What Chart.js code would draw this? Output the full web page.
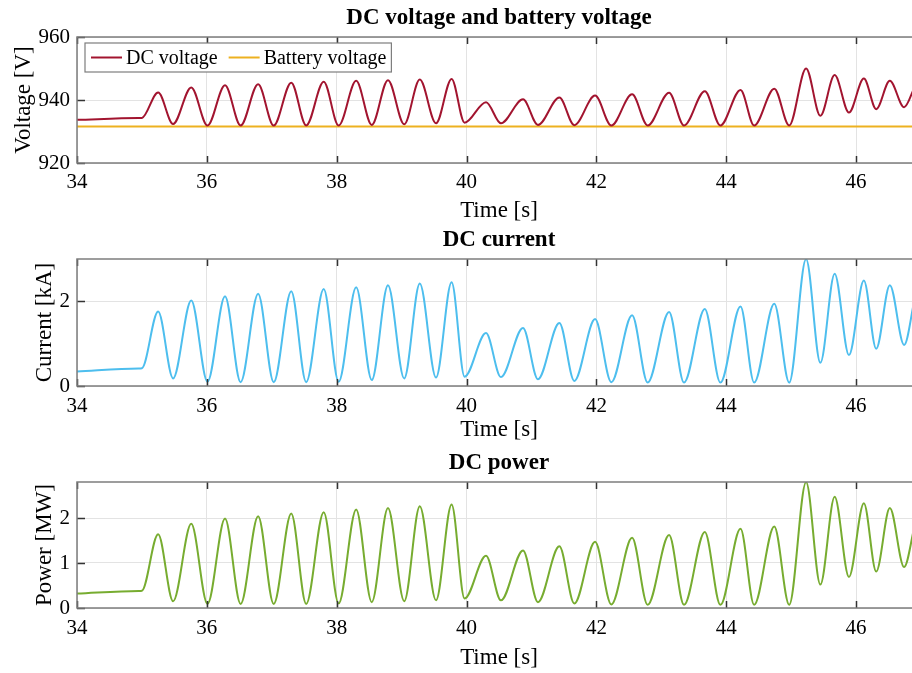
<!DOCTYPE html>
<html>
<head>
<meta charset="utf-8">
<script src="https://cdn.jsdelivr.net/npm/chart.js@4.4.0/dist/chart.umd.min.js"></script>
<style>
  html, body { margin: 0; padding: 0; overflow: hidden; background: #fff; width: 912px; height: 673px; }
  #wrap { position: relative; width: 912px; height: 673px; overflow: hidden; }
  canvas { position: absolute; left: 0; }
</style>
</head>
<body>
<div id="wrap">
  <canvas id="c1" width="921" height="225" style="top:0px"></canvas>
  <canvas id="c2" width="921" height="220" style="top:225px"></canvas>
  <canvas id="c3" width="921" height="228" style="top:445px"></canvas>
</div>
<script>
// ---- Data ----
const time = [34, 34.95, 35.0, 35.25, 35.48, 35.76, 36.01, 36.28, 36.52, 36.79, 37.03, 37.30, 37.53, 37.80, 38.03, 38.30, 38.54, 38.79, 39.04, 39.28, 39.53, 39.77, 39.97, 40.30, 40.53, 40.87, 41.10, 41.43, 41.66, 41.98, 42.23, 42.55, 42.79, 43.12, 43.35, 43.67, 43.91, 44.22, 44.43, 44.74, 44.97, 45.23, 45.45, 45.67, 45.89, 46.12, 46.31, 46.52, 46.74, 46.90];
const dcVoltage = [933.7, 934.25, 934.3, 942.4, 932.4, 944.0, 931.9, 944.7, 931.9, 945.0, 931.9, 945.5, 931.9, 945.8, 931.9, 946.1, 932.1, 946.3, 932.3, 946.5, 932.6, 946.7, 932.8, 939.3, 932.6, 940.2, 932.1, 940.8, 932.0, 941.4, 931.9, 941.8, 931.9, 942.3, 931.9, 942.8, 931.9, 943.2, 931.9, 943.6, 931.9, 950.0, 935.0, 947.9, 936.0, 946.8, 937.1, 946.1, 937.7, 944.0];
const batteryTime = [34, 47];
const batteryVoltage = [931.6, 931.6];
const dcCurrent = [0.34, 0.415, 0.42, 1.76, 0.18, 2.02, 0.10, 2.12, 0.09, 2.18, 0.09, 2.24, 0.09, 2.29, 0.10, 2.33, 0.14, 2.38, 0.18, 2.42, 0.20, 2.45, 0.22, 1.25, 0.21, 1.37, 0.16, 1.49, 0.12, 1.58, 0.09, 1.67, 0.08, 1.75, 0.08, 1.82, 0.08, 1.88, 0.08, 1.94, 0.08, 3.00, 0.55, 2.65, 0.73, 2.49, 0.88, 2.38, 0.97, 2.04];
const dcPower = [0.32, 0.38, 0.385, 1.64, 0.15, 1.87, 0.09, 1.99, 0.09, 2.04, 0.09, 2.10, 0.09, 2.13, 0.10, 2.19, 0.13, 2.22, 0.15, 2.26, 0.17, 2.30, 0.21, 1.16, 0.17, 1.28, 0.13, 1.37, 0.10, 1.47, 0.08, 1.56, 0.07, 1.62, 0.07, 1.69, 0.07, 1.76, 0.07, 1.81, 0.07, 2.80, 0.52, 2.47, 0.69, 2.33, 0.81, 2.22, 0.91, 1.81];

const xTicks = [34, 36, 38, 40, 42, 44, 46];
const voltageTicks = [920, 940, 960];
const currentTicks = [0, 2];
const powerTicks = [0, 1, 2];

const titles = ['DC voltage and battery voltage', 'DC current', 'DC power'];
const yLabels = ['Voltage [V]', 'Current [kA]', 'Power [MW]'];
const xLabel = 'Time [s]';
const seriesLabels = ['DC voltage', 'Battery voltage', 'DC current', 'DC power'];

// ---- Styling ----
const FONT = '"Liberation Serif", "Times New Roman", serif';
Chart.defaults.font.family = FONT;
Chart.defaults.color = '#000';
const BOX = '#7d7d7d';
const TICKC = '#333333';
const GRID = '#e3e3e3';

function pts(xs, ys) { return xs.map((x, i) => ({ x: x, y: ys[i] })); }

function framePlugin(cfg) {
  return {
    id: 'frame',
    afterDatasetsDraw(chart) {
      const ctx = chart.ctx, a = chart.chartArea;
      const xs = chart.scales.x, ys = chart.scales.y;
      ctx.save();
      // inward ticks
      ctx.strokeStyle = TICKC; ctx.lineWidth = 1.5;
      ctx.beginPath();
      xs.ticks.forEach(t => {
        const p = Math.round(xs.getPixelForValue(t.value)) + 0.5;
        ctx.moveTo(p, a.bottom); ctx.lineTo(p, a.bottom - 7);
        ctx.moveTo(p, a.top); ctx.lineTo(p, a.top + 7);
      });
      ys.ticks.forEach(t => {
        const p = Math.round(ys.getPixelForValue(t.value)) + 0.5;
        ctx.moveTo(a.left, p); ctx.lineTo(a.left + 8, p);
        ctx.moveTo(a.right, p); ctx.lineTo(a.right - 8, p);
      });
      ctx.stroke();
      // box
      ctx.strokeStyle = BOX; ctx.lineWidth = 1.5;
      ctx.strokeRect(a.left, a.top, a.right - a.left, a.bottom - a.top);
      // title centred over plot area
      ctx.fillStyle = '#000';
      ctx.font = 'bold 23px ' + FONT;
      ctx.textAlign = 'center'; ctx.textBaseline = 'middle';
      ctx.fillText(cfg.title, (a.left + a.right) / 2, cfg.titleY);
      // legend
      if (cfg.legend) {
        ctx.font = '20px ' + FONT;
        const items = chart.data.datasets.map(d => ({ label: d.label, color: d.borderColor, w: ctx.measureText(d.label).width }));
        const bx = a.left + 8, by = a.top + 6, bh = 29;
        let x = bx + 6;
        const layout = items.map(it => { const o = { x: x, it: it }; x += 31 + 4 + it.w + 11; return o; });
        const bw = (x - 11 + 5) - bx;
        ctx.fillStyle = '#fff';
        ctx.fillRect(bx, by, bw, bh);
        ctx.strokeStyle = BOX; ctx.lineWidth = 1.2;
        ctx.strokeRect(bx, by, bw, bh);
        const cy = by + bh / 2;
        layout.forEach(o => {
          ctx.strokeStyle = o.it.color; ctx.lineWidth = 2;
          ctx.beginPath(); ctx.moveTo(o.x, cy); ctx.lineTo(o.x + 31, cy); ctx.stroke();
          ctx.fillStyle = '#000'; ctx.textAlign = 'left'; ctx.textBaseline = 'middle';
          ctx.fillText(o.it.label, o.x + 35, cy + 1);
        });
      }
      ctx.restore();
    }
  };
}

function makeChart(id, datasets, yMin, yMax, yTicks, cfg) {
  return new Chart(document.getElementById(id), {
    type: 'line',
    data: { datasets: datasets },
    options: {
      responsive: false,
      animation: false,
      devicePixelRatio: 1,
      layout: { padding: { top: cfg.padTop, left: 0, right: 0, bottom: 0 } },
      plugins: { legend: { display: false }, title: { display: false }, tooltip: { enabled: false } },
      elements: { point: { radius: 0 }, line: { borderWidth: 2, cubicInterpolationMode: 'monotone' } },
      scales: {
        x: {
          type: 'linear', min: 34, max: 47,
          afterBuildTicks: s => { s.ticks = xTicks.map(v => ({ value: v })); },
          afterFit: s => { s.height = cfg.xHeight; },
          ticks: { font: { size: 21 }, color: '#000', padding: cfg.xTickPad, maxRotation: 0, autoSkip: false },
          grid: { color: GRID, drawTicks: false, lineWidth: 1 },
          border: { display: false },
          title: { display: true, text: xLabel, font: { size: 23 }, color: '#000', padding: { top: 0, bottom: cfg.xTitlePad } }
        },
        y: {
          type: 'linear', min: yMin, max: yMax,
          afterBuildTicks: s => { s.ticks = yTicks.map(v => ({ value: v })); },
          afterFit: s => { s.width = 77; },
          ticks: { font: { size: 21 }, color: '#000', padding: 7 },
          grid: { color: GRID, drawTicks: false, lineWidth: 1 },
          border: { display: false },
          title: { display: true, text: cfg.yLabel, font: { size: 23 }, color: '#000', padding: { top: cfg.yTitlePad, bottom: 0 } }
        }
      }
    },
    plugins: [framePlugin(cfg)]
  });
}

makeChart('c1', [
  { label: seriesLabels[0], data: pts(time, dcVoltage), borderColor: '#A2142F', fill: false },
  { label: seriesLabels[1], data: pts(batteryTime, batteryVoltage), borderColor: '#EDB120', fill: false }
], 920, 960, voltageTicks, { title: titles[0], titleY: 18, padTop: 37, xHeight: 62, xTickPad: 7, xTitlePad: 0, yLabel: yLabels[0], yTitlePad: 10, legend: true });

makeChart('c2', [
  { label: seriesLabels[2], data: pts(time, dcCurrent), borderColor: '#4DBEEE', fill: false }
], 0, 3, currentTicks, { title: titles[1], titleY: 15, padTop: 34, xHeight: 59, xTickPad: 8, xTitlePad: 1, yLabel: yLabels[1], yTitlePad: 31, legend: false });

makeChart('c3', [
  { label: seriesLabels[3], data: pts(time, dcPower), borderColor: '#77AC30', fill: false }
], 0, 2.8, powerTicks, { title: titles[2], titleY: 18, padTop: 37, xHeight: 65, xTickPad: 8, xTitlePad: 1, yLabel: yLabels[2], yTitlePad: 31, legend: false });
</script>
</body>
</html>
